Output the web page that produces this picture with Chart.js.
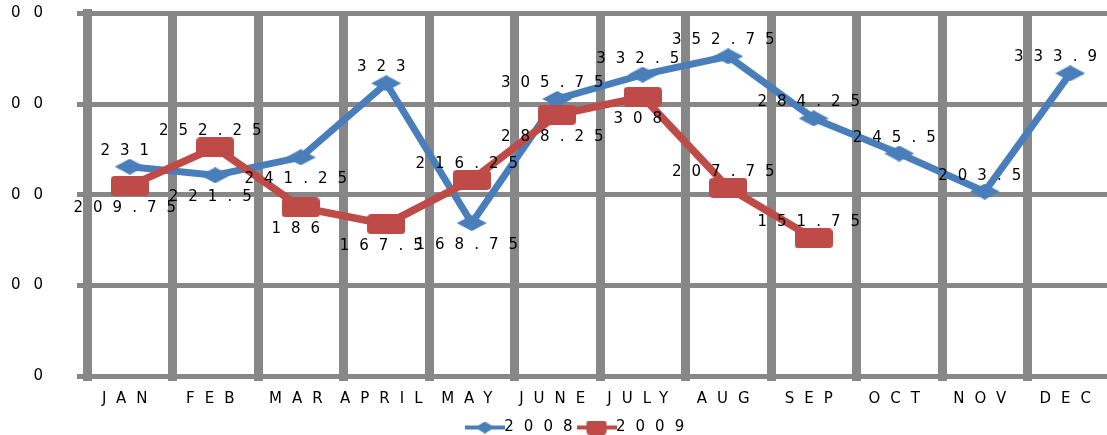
<!DOCTYPE html>
<html>
<head>
<meta charset="utf-8">
<script src="https://cdn.jsdelivr.net/npm/chart.js@4/dist/chart.umd.min.js"></script>
<style>
html, body { margin:0; padding:0; width:1107px; height:435px; overflow:hidden; background:#fff; }
#salesChart { position:absolute; left:-30px; top:0; }
</style>
</head>
<body>
<canvas id="salesChart" width="1227" height="445"></canvas>
<script>
// Monthly figures, 2008 against 2009

const months = ["JAN","FEB","MAR","APRIL","MAY","JUNE","JULY","AUG","SEP","OCT","NOV","DEC"];
const values2008 = [231,221.5,241.25,323,168.75,305.75,332.5,352.75,284.25,245.5,203.5,333.95];
const values2009 = [209.75,252.25,186,167.5,216.25,288.25,308,207.75,151.75,null,null,null];
const yTicks = [0,100,200,300,400];

// 1 = value label goes under the marker
const under2008 = [0,1,1,0,1,0,0,0,0,0,0,0];
const under2009 = [1,0,1,1,0,1,1,0,0];

const blue = "#4a7ebb";
const red = "#be4b48";
const gridGray = "#878787";
const spacing = "10px";

Chart.defaults.font.family = "'DejaVu Sans'";
Chart.defaults.font.size = 15;
Chart.defaults.color = "#000";

function diamond(w, h, color, lineW) {
  const c = document.createElement("canvas");
  c.width = lineW || w; c.height = h;
  const g = c.getContext("2d");
  const cx = c.width / 2;
  if (lineW) { g.fillStyle = color; g.fillRect(0, h / 2 - 2, lineW, 4); }
  g.fillStyle = color;
  g.beginPath();
  g.moveTo(cx, 0); g.lineTo(cx + w / 2, h / 2); g.lineTo(cx, h); g.lineTo(cx - w / 2, h / 2);
  g.closePath(); g.fill();
  return c;
}

function roundBox(w, h, r, color, lineW) {
  const c = document.createElement("canvas");
  c.width = lineW || w; c.height = h;
  const g = c.getContext("2d");
  const x0 = (c.width - w) / 2;
  g.fillStyle = color;
  if (lineW) g.fillRect(0, h / 2 - 2, lineW, 4);
  g.beginPath();
  g.roundRect(x0, 0, w, h, r);
  g.fill();
  return c;
}

const spaced = {
  id: "spaced",
  beforeLayout(chart) { chart.ctx.letterSpacing = spacing; },
  beforeDraw(chart) { chart.ctx.letterSpacing = spacing; }
};

const valueLabels = {
  id: "valueLabels",
  afterDatasetsDraw(chart) {
    const ctx = chart.ctx;
    ctx.save();
    ctx.letterSpacing = spacing;
    ctx.font = "15px 'DejaVu Sans'";
    ctx.fillStyle = "#000";
    ctx.textAlign = "center";
    ctx.textBaseline = "alphabetic";
    chart.data.datasets.forEach((ds, i) => {
      chart.getDatasetMeta(i).data.forEach((pt, j) => {
        const v = ds.data[j];
        if (v == null) return;
        const y = ds.labelUnder[j] ? pt.y + 26 : pt.y - 12;
        ctx.fillText(String(v), pt.x, y);
      });
    });
    ctx.restore();
  }
};

new Chart(
document.getElementById("salesChart"),
{
type:"line",

data:{
labels:months,

datasets:[
{
label:"2008",
data:values2008,
borderColor:blue,
backgroundColor:blue,
borderWidth:7,
pointStyle:diamond(30,16,blue),
pointRadius:6,
legendMark:diamond(20,12,blue,40),
labelUnder:under2008,
order:2
},
{
label:"2009",
data:values2009,
borderColor:red,
backgroundColor:red,
borderWidth:7.5,
pointStyle:roundBox(38,20,4,red),
pointRadius:6,
legendMark:roundBox(20,14,3,red,40),
labelUnder:under2009,
order:1
}
]
},

options:{
responsive:false,
animation:false,
events:[],
layout:{padding:{top:10,left:0,right:0,bottom:0}},

scales:{
x:{
offset:true,
grid:{offset:true,color:gridGray,lineWidth:9,tickLength:5},
border:{color:gridGray,width:5},
ticks:{padding:9,maxRotation:0,autoSkip:false},
afterFit(s){ s.height = 42; }
},
y:{
min:yTicks[0],
max:yTicks[yTicks.length-1],
afterBuildTicks(s){ s.ticks = yTicks.map(v => ({value:v})); },
grid:{color:gridGray,lineWidth:5,tickLength:10},
border:{color:gridGray,width:9},
ticks:{padding:21},
afterFit(s){
  s.width = 117; s.paddingTop = 0; s.paddingBottom = 0;
  // wider spacing on the value axis labels
  s.drawLabels = function(area){
    this.ctx.save();
    this.ctx.letterSpacing = "13px";
    Chart.Scale.prototype.drawLabels.call(this, area);
    this.ctx.restore();
  };
}
},
pad:{
position:"right",
grid:{display:false,drawTicks:false},
border:{display:false},
ticks:{display:false},
afterFit(s){ s.width = 84; s.paddingTop = 0; s.paddingBottom = 0; }
}
},

plugins:{
tooltip:{enabled:false},
legend:{
position:"bottom",
labels:{
usePointStyle:true,
pointStyleWidth:24,
padding:2,
color:"#000",
generateLabels(chart){
return chart.data.datasets.map((ds, i) => ({
text:ds.label,
pointStyle:ds.legendMark,
fillStyle:ds.borderColor,
strokeStyle:ds.borderColor,
lineWidth:0,
fontColor:"#000",
hidden:false,
datasetIndex:i
}));
}
}
}
}
},

plugins:[spaced,valueLabels]
}
);
</script>
</body>
</html>
